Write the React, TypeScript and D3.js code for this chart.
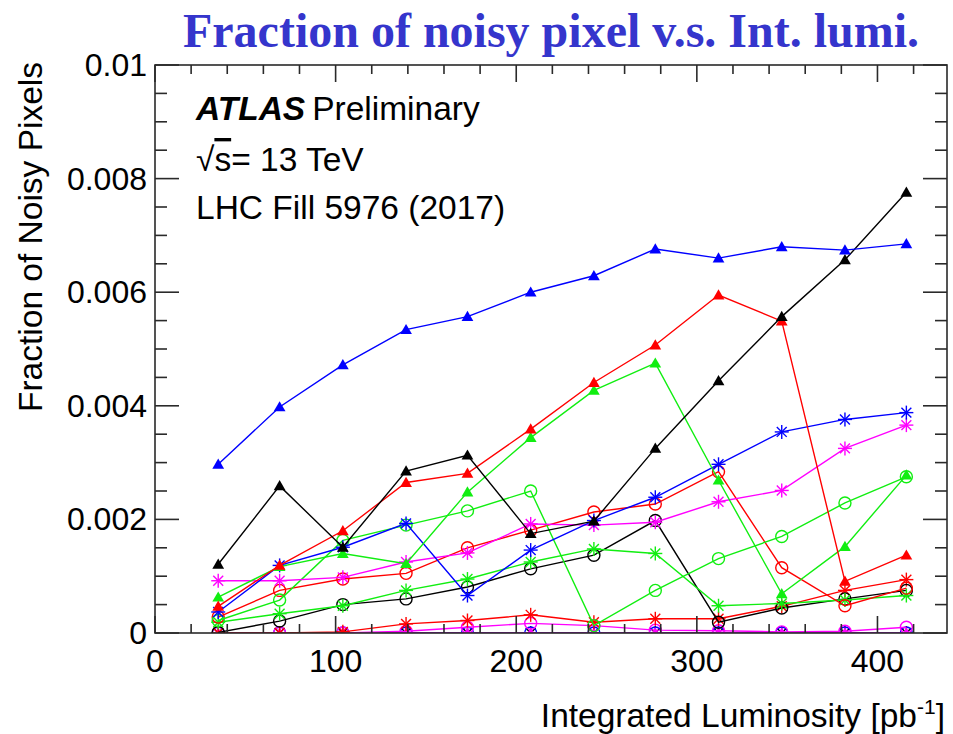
import React from 'react';
import * as d3 from 'd3';

// Integrated luminosity at each measurement point [pb^-1]
const lumi = [35, 69, 104, 139, 173, 208, 243, 277, 312, 347, 382, 416];

// Fraction of noisy pixels per module group
const blueTri = [0.00297, 0.00398, 0.00472, 0.00534, 0.00557, 0.006, 0.00629, 0.00676, 0.0066, 0.0068, 0.00674, 0.00685];
const blackTri = [0.00121, 0.00259, 0.00151, 0.00285, 0.00313, 0.00175, 0.00197, 0.00325, 0.00444, 0.00557, 0.00657, 0.00776];
const redTri = [0.00047, 0.00119, 0.0018, 0.00265, 0.00281, 0.00359, 0.00441, 0.00507, 0.00595, 0.00549, 0.00091, 0.00137];
const greenTri = [0.00063, 0.00117, 0.0014, 0.00122, 0.00248, 0.00344, 0.00427, 0.00475, 0.00269, 0.00069, 0.00152, 0.00278];
const magentaTri = [0, 0, 0, 0, 0, 0, 0, 0, 0, 0, 0, 0];
const blueStar = [0.00037, 0.00119, 0.00151, 0.00193, 0.00066, 0.00146, 0.00198, 0.00239, 0.00297, 0.00354, 0.00376, 0.00388];
const magentaStar = [0.00092, 0.00092, 0.00098, 0.00125, 0.00141, 0.00192, 0.0019, 0.00195, 0.00231, 0.00251, 0.00325, 0.00366];
const greenStar = [0.00019, 0.00034, 0.00048, 0.00075, 0.00095, 0.00125, 0.00148, 0.0014, 0.00048, 0.00052, 0.00058, 0.00066];
const redStar = [0.0, 0.0, 0.00002, 0.00016, 0.00022, 0.00032, 0.00019, 0.00025, 0.00025, 0.00047, 0.00075, 0.00094];
const blackStar = [0, 0, 0, 0, 0, 0, 0, 0, 0, 0, 0, 0];
const redCirc = [0.00028, 0.00075, 0.00095, 0.00105, 0.0015, 0.00181, 0.00213, 0.00227, 0.00284, 0.00115, 0.00048, 0.00079];
const greenCirc = [0.00022, 0.00058, 0.00163, 0.0019, 0.00215, 0.0025, 0.00013, 0.00075, 0.00131, 0.0017, 0.00229, 0.00275];
const blackCirc = [0.00001, 0.00021, 0.0005, 0.0006, 0.00081, 0.00113, 0.00137, 0.00198, 0.00019, 0.00044, 0.0006, 0.00075];
const magentaCirc = [0, 0, 0, 0.00003, 0.0001, 0.00017, 0.00013, 0.00005, 0.00004, 0.00002, 0.00003, 0.0001];
const blueCirc = [0, 0, 0, 0, 0, 0, 0, 0, 0, 0, 0, 0];

const xTicks = [0, 100, 200, 300, 400];
const yTicks = [0, 0.002, 0.004, 0.006, 0.008, 0.01];
const yTickLabels = ['0', '0.002', '0.004', '0.006', '0.008', '0.01'];

type Marker = 'tri' | 'circ' | 'star';
interface Series { color: string; marker: Marker; values: number[] }

const series: Series[] = [
  { color: '#000000', marker: 'star', values: blackStar },
  { color: '#0000ff', marker: 'circ', values: blueCirc },
  { color: '#ff00ff', marker: 'tri', values: magentaTri },
  { color: '#ff00ff', marker: 'circ', values: magentaCirc },
  { color: '#ff0000', marker: 'star', values: redStar },
  { color: '#000000', marker: 'circ', values: blackCirc },
  { color: '#11ee11', marker: 'star', values: greenStar },
  { color: '#ff0000', marker: 'circ', values: redCirc },
  { color: '#11ee11', marker: 'circ', values: greenCirc },
  { color: '#ff00ff', marker: 'star', values: magentaStar },
  { color: '#0000ff', marker: 'star', values: blueStar },
  { color: '#11ee11', marker: 'tri', values: greenTri },
  { color: '#ff0000', marker: 'tri', values: redTri },
  { color: '#000000', marker: 'tri', values: blackTri },
  { color: '#0000ff', marker: 'tri', values: blueTri },
];

const W = 953;
const H = 734;
const frame = { left: 155, right: 947, top: 65, bottom: 633 };
const sans = '"Liberation Sans", Arial, Helvetica, sans-serif';

const x = d3.scaleLinear().domain([0, 438.5]).range([frame.left, frame.right]);
const y = d3.scaleLinear().domain([0, 0.01]).range([frame.bottom, frame.top]);

const triPath = d3.symbol().type(d3.symbolTriangle).size(60)() as string;

function MarkerShape({ m, color, cx, cy }: { m: Marker; color: string; cx: number; cy: number }) {
  if (m === 'tri') {
    return <path d={triPath} transform={`translate(${cx},${cy + 1})`} fill={color} stroke="none" />;
  }
  if (m === 'circ') {
    return <circle cx={cx} cy={cy} r={6} fill="none" stroke={color} strokeWidth={1.4} />;
  }
  const r = 7;
  const d = r * Math.SQRT1_2;
  return (
    <g stroke={color} strokeWidth={1.4}>
      <line x1={cx - r} y1={cy} x2={cx + r} y2={cy} />
      <line x1={cx} y1={cy - r} x2={cx} y2={cy + r} />
      <line x1={cx - d} y1={cy - d} x2={cx + d} y2={cy + d} />
      <line x1={cx - d} y1={cy + d} x2={cx + d} y2={cy - d} />
    </g>
  );
}

export default function App() {
  const line = d3
    .line<number>()
    .x((_, i) => x(lumi[i]))
    .y((v) => y(v));

  const xMinor = d3.range(0, 438.5, 20);
  const yMinor = d3.range(0, 0.01 + 1e-9, 0.0005);
  const axisColor = '#2a2a2a';

  return (
    <svg
      width={W}
      height={H}
      viewBox={`0 0 ${W} ${H}`}
      style={{ position: 'absolute', left: 0, top: 0, background: '#fff' }}
    >
      <rect x={0} y={0} width={W} height={H} fill="#fff" />

      {/* title */}
      <text
        x={551}
        y={47}
        textAnchor="middle"
        fontFamily='"Liberation Serif", "Times New Roman", serif'
        fontWeight="bold"
        fontSize={48}
        fill="#3535cc"
      >
        Fraction of noisy pixel v.s. Int. lumi.
      </text>

      <defs>
        <clipPath id="plotClip">
          <rect x={frame.left} y={frame.top - 10} width={frame.right - frame.left} height={frame.bottom - frame.top + 10} />
        </clipPath>
      </defs>

      {/* data */}
      <g clipPath="url(#plotClip)">
        {series.map((s, si) => (
          <g key={si}>
            <path d={line(s.values) || ''} fill="none" stroke={s.color} strokeWidth={1.4} />
            {s.values.map((v, i) => (
              <MarkerShape key={i} m={s.marker} color={s.color} cx={x(lumi[i])} cy={y(v)} />
            ))}
          </g>
        ))}
      </g>

      {/* frame and ticks */}
      <g stroke={axisColor} strokeWidth={1.6} fill="none">
        <rect x={frame.left} y={frame.top} width={frame.right - frame.left} height={frame.bottom - frame.top} />
        {xMinor.map((t) => {
          const major = t % 100 === 0;
          const len = major ? 17 : 9;
          return (
            <g key={`xt${t}`}>
              <line x1={x(t)} x2={x(t)} y1={frame.bottom} y2={frame.bottom - len} />
              <line x1={x(t)} x2={x(t)} y1={frame.top} y2={frame.top + len} />
            </g>
          );
        })}
        {yMinor.map((t, i) => {
          const major = i % 4 === 0;
          const len = major ? 24 : 12;
          return (
            <g key={`yt${i}`}>
              <line x1={frame.left} x2={frame.left + len} y1={y(t)} y2={y(t)} />
              <line x1={frame.right} x2={frame.right - len} y1={y(t)} y2={y(t)} />
            </g>
          );
        })}
      </g>

      {/* tick labels */}
      <g fontFamily={sans} fontSize={32} fill="#000">
        {xTicks.map((t) => (
          <text key={`xl${t}`} x={x(t)} y={672} textAnchor="middle">
            {t}
          </text>
        ))}
        {yTicks.map((t, i) => (
          <text key={`yl${i}`} x={147} y={y(t) + 11} textAnchor="end">
            {yTickLabels[i]}
          </text>
        ))}
      </g>

      {/* axis titles */}
      <text x={945} y={727} textAnchor="end" fontFamily={sans} fontSize={33.5} fill="#000">
        Integrated Luminosity [pb
        <tspan dy={-13} fontSize={21}>-1</tspan>
        <tspan dy={13}>]</tspan>
      </text>
      <text
        transform="translate(42,62) rotate(-90)"
        textAnchor="end"
        fontFamily={sans}
        fontSize={33.5}
        fill="#000"
      >
        Fraction of Noisy Pixels
      </text>

      {/* experiment labels */}
      <g fontFamily={sans} fontSize={33.5} fill="#000">
        <text x={196} y={120}>
          <tspan fontWeight="bold" fontStyle="italic">ATLAS</tspan>
          <tspan dx={7}>Preliminary</tspan>
        </text>
        <text x={196} y={171}>
          √<tspan textDecoration="overline">s</tspan>= 13 TeV
        </text>
        <text x={196} y={219}>LHC Fill 5976 (2017)</text>
      </g>
    </svg>
  );
}
